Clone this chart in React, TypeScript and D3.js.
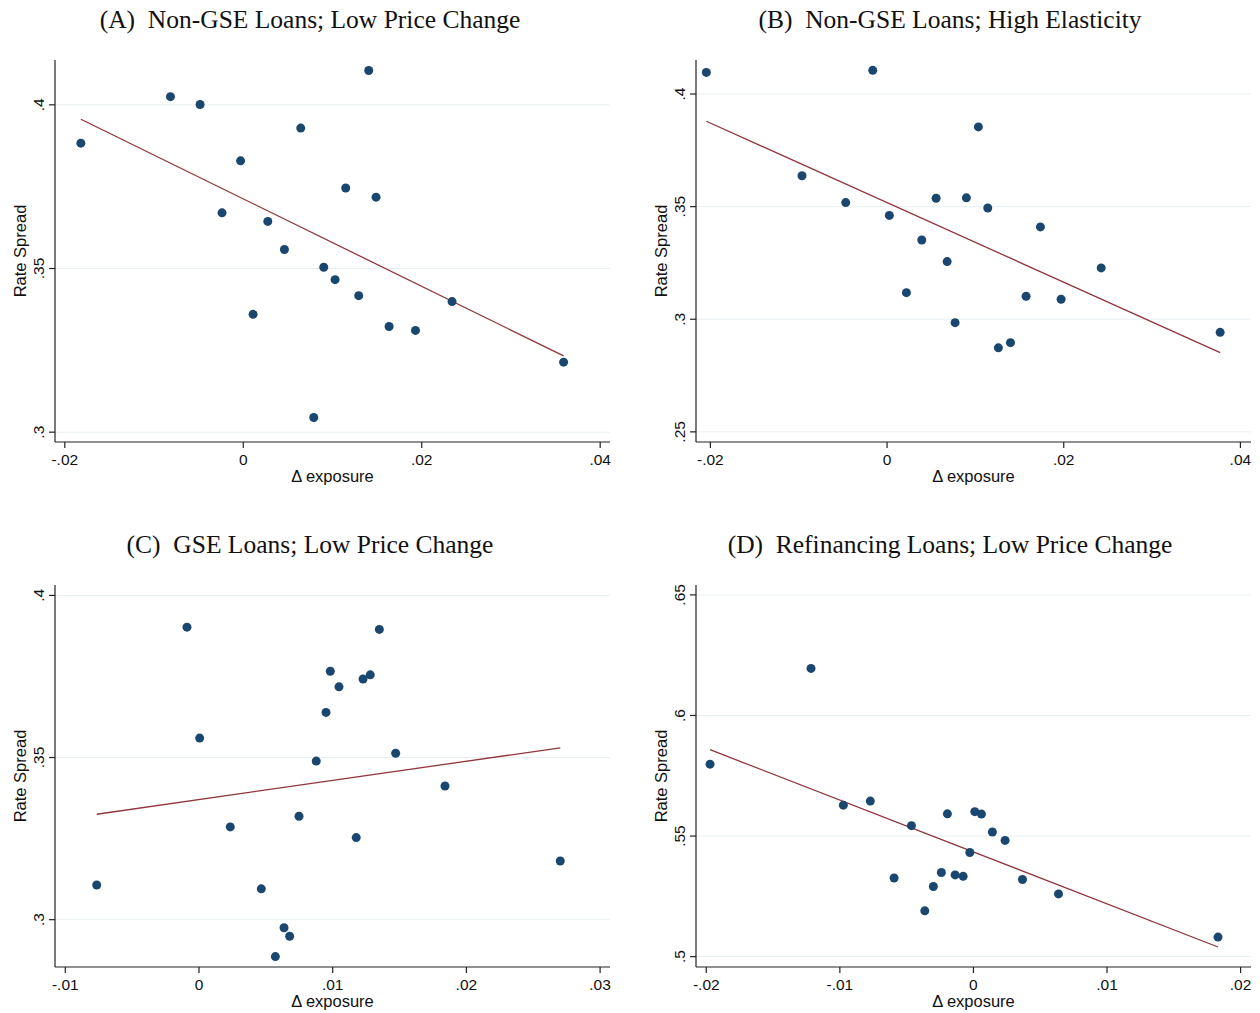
import * as d3 from 'd3';

// Panel A: Non-GSE loans, low price change
const aX = [-0.0182, -0.00816, -0.00484, -0.0003, -0.00238, 0.00275, 0.00461, 0.0011, 0.00644, 0.0079,
  0.01406, 0.01148, 0.01488, 0.00902, 0.01029, 0.01294, 0.01634, 0.0193, 0.0234, 0.0359];
const aY = [0.3883, 0.4025, 0.4001, 0.3829, 0.367, 0.3644, 0.3558, 0.336, 0.3929, 0.3045,
  0.4105, 0.3746, 0.3718, 0.3504, 0.3466, 0.3417, 0.3323, 0.3311, 0.3399, 0.3214];
const aFit = [[-0.0182, 0.3956], [0.0359, 0.3233]];

// Panel B: Non-GSE loans, high elasticity
const bX = [-0.02046, -0.00162, -0.00963, -0.00468, 0.00026, 0.00555, 0.00393, 0.0068, 0.00219, 0.0077,
  0.01034, 0.00898, 0.0114, 0.01736, 0.02424, 0.01574, 0.0197, 0.0126, 0.01397, 0.03771];
const bY = [0.4096, 0.4105, 0.3637, 0.3518, 0.3461, 0.3537, 0.3352, 0.3256, 0.3118, 0.2985,
  0.3854, 0.3539, 0.3494, 0.341, 0.3228, 0.3102, 0.3089, 0.2873, 0.2896, 0.2942];
const bFit = [[-0.02046, 0.3879], [0.03771, 0.2852]];

// Panel C: GSE loans, low price change
const cX = [-0.0009, 0.00005, -0.00765, 0.00234, 0.00466, 0.00636, 0.00678, 0.00571, 0.00748, 0.00877,
  0.01349, 0.00982, 0.01047, 0.01227, 0.01281, 0.0095, 0.01471, 0.0184, 0.01176, 0.02702];
const cY = [0.3902, 0.356, 0.3107, 0.3286, 0.3095, 0.2975, 0.2949, 0.2886, 0.3319, 0.3489,
  0.3895, 0.3766, 0.3718, 0.3742, 0.3755, 0.3639, 0.3513, 0.3412, 0.3253, 0.3181];
const cFit = [[-0.00765, 0.3325], [0.02702, 0.353]];

// Panel D: refinancing loans, low price change
const dX = [-0.01972, -0.01216, -0.00974, -0.00772, -0.00464, -0.00594, -0.00195, -0.0024, -0.003, -0.00364,
  -0.00137, -0.00077, -0.00027, 0.0001, 0.0006, 0.00142, 0.00237, 0.00367, 0.00637, 0.01831];
const dY = [0.5798, 0.6195, 0.5628, 0.5645, 0.5543, 0.5326, 0.5592, 0.5349, 0.5291, 0.519,
  0.5339, 0.5333, 0.5432, 0.5601, 0.5591, 0.5517, 0.5482, 0.532, 0.526, 0.5081];
const dFit = [[-0.01972, 0.5858], [0.01831, 0.504]];

const xTicksAB = [-0.02, 0, 0.02, 0.04];
const xTicksC = [-0.01, 0, 0.01, 0.02, 0.03];
const xTicksD = [-0.02, -0.01, 0, 0.01, 0.02];
const yTicksA = [0.3, 0.35, 0.4];
const yTicksB = [0.25, 0.3, 0.35, 0.4];
const yTicksC = [0.3, 0.35, 0.4];
const yTicksD = [0.5, 0.55, 0.6, 0.65];

const titles = [
  '(A)  Non-GSE Loans; Low Price Change',
  '(B)  Non-GSE Loans; High Elasticity',
  '(C)  GSE Loans; Low Price Change',
  '(D)  Refinancing Loans; Low Price Change',
];

const DOT = '#1a476f';
const FIT = '#90353b';
const GRID = '#e8f0f2';
const AXIS = '#222';
const SANS = "'Liberation Sans', Arial, sans-serif";
const SERIF = "'Liberation Serif', 'Times New Roman', serif";

// Stata style tick labels: ".4", "-.02", "0"
const stataFmt = (v: number) => {
  if (Math.abs(v) < 1e-12) return '0';
  return String(+v.toFixed(4)).replace(/^(-?)0\./, '$1.');
};

function Panel({ title, cx, box, xDomain, yDomain, xTicks, yTicks, xs, ys, fit }: any) {
  const [left, right, top, bottom] = box;
  const x = d3.scaleLinear().domain(xDomain).range([left, right]);
  const y = d3.scaleLinear().domain(yDomain).range([bottom, top]);
  const line = d3.line<number[]>().x(d => x(d[0])).y(d => y(d[1]));
  const titleY = top - 32;

  return (
    <g>
      <text x={cx} y={titleY} textAnchor="middle" fontFamily={SERIF} fontSize={25.5} fill="#111"
        style={{ whiteSpace: 'pre' }}>{title}</text>

      {yTicks.map((t: number) => (
        <line key={'g' + t} x1={left} x2={right} y1={y(t)} y2={y(t)} stroke={GRID} strokeWidth={1} />
      ))}

      <path d={line(fit) || ''} fill="none" stroke={FIT} strokeWidth={1.3} />

      {xs.map((v: number, i: number) => (
        <circle key={i} cx={x(v)} cy={y(ys[i])} r={4.5} fill={DOT} />
      ))}

      <line x1={left} x2={left} y1={top} y2={bottom} stroke={AXIS} strokeWidth={1.2} />
      <line x1={left} x2={right} y1={bottom} y2={bottom} stroke={AXIS} strokeWidth={1.2} />

      {yTicks.map((t: number) => (
        <g key={'y' + t}>
          <line x1={left - 6} x2={left} y1={y(t)} y2={y(t)} stroke={AXIS} strokeWidth={1.2} />
          <text transform={`translate(${left - 11},${y(t)}) rotate(-90)`} textAnchor="middle"
            fontFamily={SANS} fontSize={15.5} fill="#111">{stataFmt(t)}</text>
        </g>
      ))}
      {xTicks.map((t: number) => (
        <g key={'x' + t}>
          <line x1={x(t)} x2={x(t)} y1={bottom} y2={bottom + 6} stroke={AXIS} strokeWidth={1.2} />
          <text x={x(t)} y={bottom + 23} textAnchor="middle" fontFamily={SANS} fontSize={15.5}
            fill="#111">{stataFmt(t)}</text>
        </g>
      ))}

      <text transform={`translate(${left - 29},${(top + bottom) / 2}) rotate(-90)`} textAnchor="middle"
        fontFamily={SANS} fontSize={16.5} fill="#111">Rate Spread</text>
      <text x={(left + right) / 2} y={bottom + 40} textAnchor="middle" fontFamily={SANS} fontSize={16.5}
        fill="#111">Δ exposure</text>
    </g>
  );
}

export default function App() {
  return (
    <svg width={1260} height={1013} style={{ display: 'block', position: 'absolute', left: 0, top: 0, background: '#fff' }}>
      <rect width={1260} height={1013} fill="#fff" />
      <Panel title={titles[0]} cx={310} box={[55, 610, 60, 442]}
        xDomain={[-0.0211, 0.0411]} yDomain={[0.297, 0.4137]}
        xTicks={xTicksAB} yTicks={yTicksA} xs={aX} ys={aY} fit={aFit} />
      <Panel title={titles[1]} cx={950} box={[696, 1251, 60, 442]}
        xDomain={[-0.02163, 0.0412]} yDomain={[0.2455, 0.4151]}
        xTicks={xTicksAB} yTicks={yTicksB} xs={bX} ys={bY} fit={bFit} />
      <Panel title={titles[2]} cx={310} box={[55, 610, 585, 967]}
        xDomain={[-0.01077, 0.03074]} yDomain={[0.2854, 0.4032]}
        xTicks={xTicksC} yTicks={yTicksC} xs={cX} ys={cY} fit={cFit} />
      <Panel title={titles[3]} cx={950} box={[696, 1251, 585, 967]}
        xDomain={[-0.02077, 0.02078]} yDomain={[0.4957, 0.6541]}
        xTicks={xTicksD} yTicks={yTicksD} xs={dX} ys={dY} fit={dFit} />
    </svg>
  );
}
